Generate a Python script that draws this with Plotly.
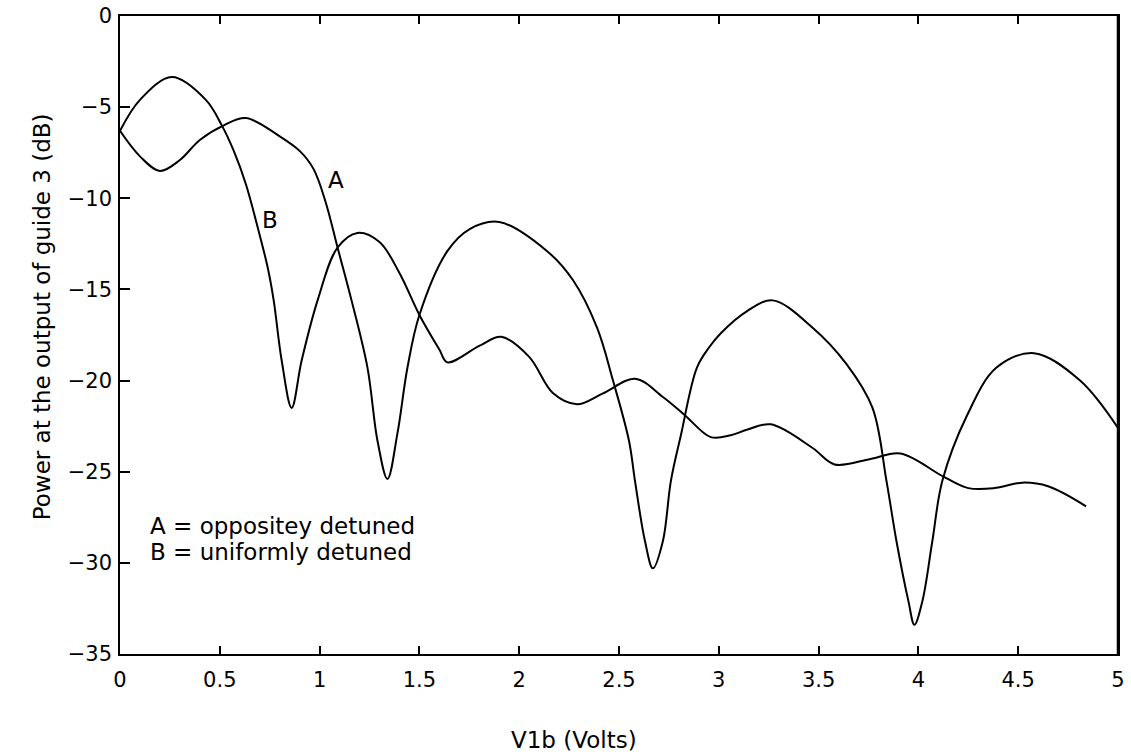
import plotly.graph_objects as go

# Curve A: oppositely detuned
a_x = [0.0, 0.10, 0.20, 0.30, 0.40, 0.52, 0.63, 0.80, 0.90, 0.97, 1.03, 1.09, 1.16, 1.24, 1.29, 1.34,
       1.39, 1.44, 1.50, 1.64, 1.75, 1.90, 2.14, 2.27, 2.39, 2.47, 2.55, 2.58, 2.63, 2.67, 2.72,
       2.76, 2.81, 2.89, 2.95, 3.01, 3.14, 3.27, 3.47, 3.64, 3.77, 3.84, 3.89, 3.95, 3.98, 4.02,
       4.07, 4.12, 4.24, 4.39, 4.58, 4.81, 5.0]
a_y = [-6.3, -7.7, -8.5, -7.9, -6.8, -6.0, -5.6, -6.6, -7.4, -8.4, -10.2, -12.7, -15.6, -19.3, -23.3, -25.4,
       -22.9, -19.3, -16.4, -12.9, -11.7, -11.3, -12.9, -14.5, -17.1, -20.0, -23.3, -25.5, -28.8, -30.3, -28.8,
       -25.5, -23.0, -19.3, -18.2, -17.4, -16.2, -15.6, -17.1, -19.1, -21.5, -25.5, -28.8, -32.1, -33.4, -32.1,
       -28.8, -25.5, -22.0, -19.3, -18.5, -20.0, -22.6]

# Curve B: uniformly detuned
b_x = [0.0, 0.10, 0.26, 0.43, 0.51, 0.57, 0.63, 0.69, 0.74, 0.77, 0.81, 0.86, 0.91, 0.99, 1.09, 1.19,
       1.30, 1.40, 1.50, 1.60, 1.64, 1.80, 1.91, 2.05, 2.17, 2.29, 2.42, 2.58, 2.72, 2.83,
       2.96, 3.06, 3.14, 3.26, 3.47, 3.58, 3.76, 3.91, 4.13, 4.25, 4.38, 4.52, 4.65, 4.84]
b_y = [-6.3, -4.6, -3.35, -4.6, -6.0, -7.4, -9.2, -11.6, -13.8, -15.6, -18.9, -21.5, -18.9, -15.6, -12.7, -11.9,
       -12.4, -14.1, -16.4, -18.3, -19.0, -18.1, -17.6, -18.7, -20.7, -21.3, -20.7, -19.9, -20.9, -21.9,
       -23.1, -23.0, -22.7, -22.4, -23.7, -24.6, -24.3, -24.0, -25.3, -25.9, -25.9, -25.6, -25.8, -26.9]

x_ticks = [0, 0.5, 1, 1.5, 2, 2.5, 3, 3.5, 4, 4.5, 5]
x_ticktext = ["0", "0.5", "1", "1.5", "2", "2.5", "3", "3.5", "4", "4.5", "5"]
y_ticks = [0, -5, -10, -15, -20, -25, -30, -35]
y_ticktext = ["0", "\u22125", "\u221210", "\u221215", "\u221220", "\u221225", "\u221230", "\u221235"]

FONT = "DejaVu Sans"

fig = go.Figure()
fig.add_trace(go.Scatter(x=a_x, y=a_y, mode="lines", name="A",
                         line=dict(color="black", width=2, shape="spline", smoothing=1.0)))
fig.add_trace(go.Scatter(x=b_x, y=b_y, mode="lines", name="B",
                         line=dict(color="black", width=2, shape="spline", smoothing=1.0)))

fig.update_layout(
    width=1131, height=755,
    margin=dict(l=120, r=13, t=16, b=101),
    paper_bgcolor="white", plot_bgcolor="white",
    showlegend=False,
    font=dict(family=FONT, size=21, color="black"),
    xaxis=dict(range=[0, 5], tickvals=x_ticks, ticktext=x_ticktext, automargin=False,
               showgrid=False, zeroline=False, showline=True, linecolor="black", linewidth=1.5,
               mirror="ticks", ticks="inside", ticklen=8, tickcolor="black", tickwidth=1.5,
               tickfont=dict(family=FONT, size=21), ticklabelstandoff=6),
    yaxis=dict(range=[-35, 0], tickvals=y_ticks, ticktext=y_ticktext, automargin=False,
               showgrid=False, zeroline=False, showline=True, linecolor="black", linewidth=1.5,
               mirror=True, ticks="inside", ticklen=10, tickcolor="black", tickwidth=1.5,
               tickfont=dict(family=FONT, size=21), ticklabelstandoff=2),
)

# right border drawn thicker like the reference
fig.add_shape(type="line", xref="x", yref="paper", x0=5, x1=5, y0=0, y1=1,
              line=dict(color="black", width=2.5))

TXT = 23
fig.add_annotation(x=1.08, y=-9.0, text="A", showarrow=False, xref="x", yref="y",
                   font=dict(family=FONT, size=TXT))
fig.add_annotation(x=0.75, y=-11.2, text="B", showarrow=False, xref="x", yref="y",
                   font=dict(family=FONT, size=TXT))
fig.add_annotation(x=0.14, y=-28.0, text="A = oppositey detuned", showarrow=False,
                   xref="x", yref="y", xanchor="left", font=dict(family=FONT, size=TXT))
fig.add_annotation(x=0.14, y=-29.4, text="B = uniformly detuned", showarrow=False,
                   xref="x", yref="y", xanchor="left", font=dict(family=FONT, size=TXT))
fig.add_annotation(x=0.455, y=-0.135, text="V1b (Volts)", showarrow=False,
                   xref="paper", yref="paper", xanchor="center", yanchor="middle",
                   font=dict(family=FONT, size=TXT))
fig.add_annotation(x=-0.078, y=0.528, text="Power at the output of guide 3 (dB)",
                   textangle=-90, showarrow=False, xref="paper", yref="paper",
                   xanchor="center", yanchor="middle", font=dict(family=FONT, size=TXT))

fig.write_html("out.html")
